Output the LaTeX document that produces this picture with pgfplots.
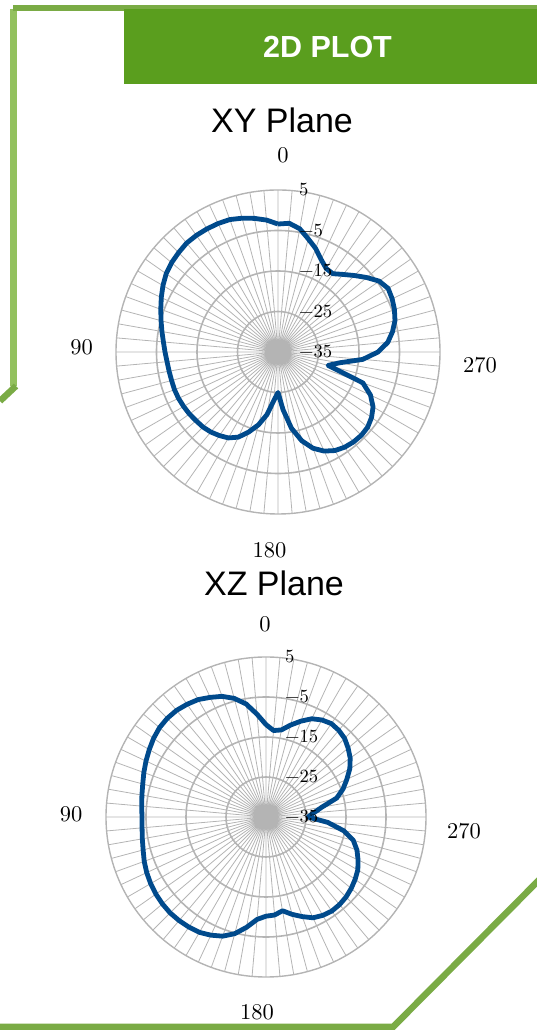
\documentclass[border=0pt]{standalone}
\usepackage{pgfplots}
\pgfplotsset{compat=1.18}
\usepackage{pgfplotstable}
\usepgfplotslibrary{polar}
\usepackage{fontspec}
\newfontfamily\arialfont{Liberation Sans}
\newfontfamily\lmten{lmroman10-regular}[Extension=.otf]

\definecolor{frameA}{HTML}{7AAB45}
\definecolor{frameB}{HTML}{93C15E}
\definecolor{headgreen}{HTML}{5A9E1E}
\definecolor{curveblue}{HTML}{004A8C}
\definecolor{gridgray}{HTML}{B4B4B4}

% angle (deg, counterclockwise from top) and gain (dB)
\pgfplotstableread{
a db
0 -3.4
5 -2.3
10 -1.5
15 -0.8
20 -0.2
25 0.0
30 0.1
35 0.15
40 0.1
45 -0.3
50 -0.7
55 -1.3
60 -2.2
65 -3.2
70 -4.2
75 -5.1
80 -5.9
85 -6.6
90 -7.1
95 -7.5
100 -7.7
105 -7.8
110 -7.8
115 -7.9
120 -8.1
125 -8.3
130 -8.6
135 -8.8
140 -9.2
145 -9.8
150 -10.5
155 -11.8
160 -14.0
165 -16.4
170 -19.3
175 -22.9
180 -25.0
185 -20.7
190 -15.9
195 -12.3
200 -9.7
205 -8.0
210 -6.9
215 -6.3
220 -6.0
225 -5.9
230 -6.1
235 -6.8
240 -7.9
245 -9.8
250 -12.7
255 -22.2
260 -19.6
265 -14.0
270 -10.3
275 -7.8
280 -6.3
285 -5.1
290 -4.4
295 -3.9
300 -3.6
305 -4.5
310 -6.4
315 -8.3
320 -10.0
325 -11.4
330 -11.2
335 -9.8
340 -7.8
345 -6.1
350 -4.1
355 -3.1
360 -3.4
}\xydata

\pgfplotstableread{
a db
0 -11.9
5 -9.2
10 -6.3
15 -4.3
20 -2.9
25 -2.0
30 -1.1
35 -0.6
40 -0.2
45 -0.1
50 -0.25
55 -0.7
60 -1.3
65 -1.9
70 -2.5
75 -3.1
80 -3.5
85 -3.8
90 -4.0
95 -3.9
100 -3.6
105 -3.2
110 -2.6
115 -2.1
120 -1.7
125 -1.4
130 -1.2
135 -1.1
140 -1.2
145 -1.4
150 -1.7
155 -2.4
160 -3.3
165 -4.8
170 -7.0
175 -9.3
180 -10.2
185 -10.4
190 -11.2
195 -9.8
200 -8.5
205 -7.2
210 -6.6
215 -6.3
220 -6.4
225 -6.7
230 -7.2
235 -7.8
240 -8.5
245 -9.6
250 -10.8
255 -12.4
260 -15.3
265 -19.5
270 -24.5
275 -23.0
280 -20.8
285 -16.7
290 -14.5
295 -12.7
300 -10.8
305 -9.3
310 -8.2
315 -7.2
320 -6.7
325 -6.5
330 -7.0
335 -7.9
340 -9.5
345 -11.2
350 -12.9
355 -13.3
360 -11.9
}\xzdata

\pgfplotsset{
  radar/.style={
    scale only axis, anchor=center,
    xmin=0, xmax=360, ymin=0, ymax=40,
    xtick={0,5,...,355}, ytick={10,20,30},
    xticklabel=\empty, yticklabel=\empty,
    major tick length=0pt,
    grid=major,
    major x grid style={gridgray, line width=0.8pt},
    major y grid style={gridgray, line width=1.6pt},
    x axis line style={gridgray, line width=1.4pt},
    y axis line style={draw=none},
    clip=false,
  },
  gain/.style={curveblue, line width=4.8pt, line join=round, no marks},
}
\tikzset{
  rlab/.style={anchor=west, inner sep=0pt, font=\lmten\fontsize{18.6}{20}\selectfont},
  alab/.style={font=\lmten\fontsize{22.5}{24}\selectfont},
}

\begin{document}
\begin{tikzpicture}
\path[use as bounding box] (0pt,0pt) rectangle (537pt,1030pt);

% frame
\draw[frameB, line width=6.5pt] (13.5pt,1021pt) -- (13.5pt,644pt);
\draw[frameA, line width=6.5pt] (13pt,1022pt) -- (537pt,1022pt);
\draw[frameA, line width=6.5pt] (16pt,644pt) -- (0pt,629pt);
\draw[frameA, line width=6.5pt, line join=miter] (540pt,151pt) -- (393pt,3pt) -- (-2pt,3pt);

% header
\fill[headgreen] (124pt,946pt) rectangle (537pt,1021pt);
\node[text=white, font=\arialfont\bfseries\fontsize{30.5}{32}\selectfont] at (327.5pt,982.5pt) {2D PLOT};

% XY plane
\node[font=\arialfont\fontsize{34}{36}\selectfont] at (282pt,910pt) {XY Plane};
\begin{polaraxis}[radar, at={(278pt,678pt)}, width=324pt, height=324pt]
\addplot[gain] table[x expr=\thisrow{a}+90, y expr=\thisrow{db}+35] {\xydata};
\node[rlab, xshift=21pt] at (axis cs:90,40) {5};
\node[rlab, xshift=21pt] at (axis cs:90,30) {−5};
\node[rlab, xshift=21pt] at (axis cs:90,20) {−15};
\node[rlab, xshift=21pt] at (axis cs:90,10) {−25};
\node[rlab, xshift=21pt] at (axis cs:90,0) {−35};
\end{polaraxis}
\begin{scope}[alab]
\node at (283pt,875pt) {0};
\node at (81.5pt,682.5pt) {90};
\node at (480pt,665pt) {270};
\node at (269.5pt,480pt) {180};
\end{scope}

% XZ plane
\node[font=\arialfont\fontsize{34}{36}\selectfont] at (274pt,447pt) {XZ Plane};
\begin{polaraxis}[radar, at={(266pt,213pt)}, width=320pt, height=320pt]
\addplot[gain] table[x expr=\thisrow{a}+90, y expr=\thisrow{db}+35] {\xzdata};
\node[rlab, xshift=19pt] at (axis cs:90,40) {5};
\node[rlab, xshift=19pt] at (axis cs:90,30) {−5};
\node[rlab, xshift=19pt] at (axis cs:90,20) {−15};
\node[rlab, xshift=19pt] at (axis cs:90,10) {−25};
\node[rlab, xshift=19pt] at (axis cs:90,0) {−35};
\end{polaraxis}
\begin{scope}[alab]
\node at (265pt,406pt) {0};
\node at (71pt,216pt) {90};
\node at (464pt,199pt) {270};
\node at (257pt,18pt) {180};
\end{scope}
\end{tikzpicture}
\end{document}
